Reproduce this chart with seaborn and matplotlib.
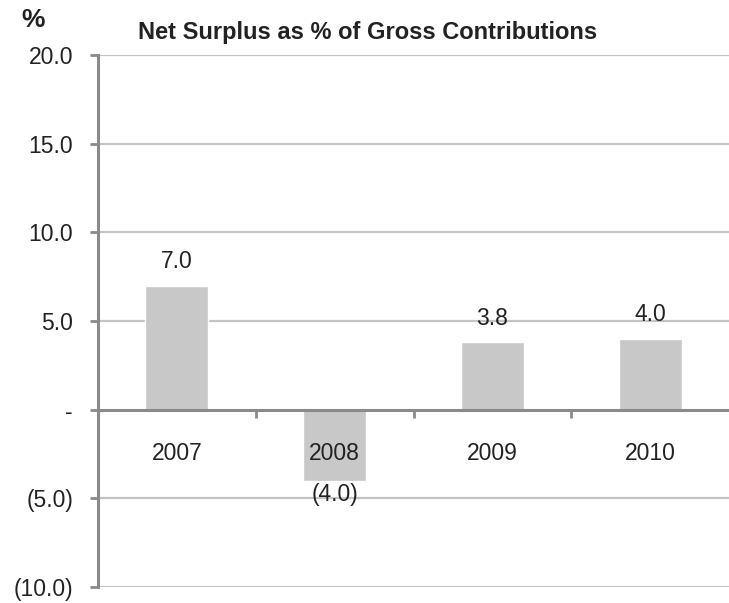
import matplotlib
matplotlib.use("Agg")
import matplotlib.pyplot as plt
import seaborn as sns
import pandas as pd
from matplotlib.ticker import FixedLocator

years = ["2007", "2008", "2009", "2010"]
values = [7.0, -4.0, 3.8, 4.0]
value_labels = ["7.0", "(4.0)", "3.8", "4.0"]
y_ticks = [-10, -5, 0, 5, 10, 15, 20]
y_tick_labels = ["(10.0)", "(5.0)", "-", "5.0", "10.0", "15.0", "20.0"]
title = "Net Surplus as % of Gross Contributions"
unit = "%"

sns.set_theme(style="white")
plt.rcParams["font.family"] = ["Liberation Sans", "DejaVu Sans"]

df = pd.DataFrame({"year": years, "value": values})

W, H = 729, 603
fig = plt.figure(figsize=(W / 100, H / 100), dpi=100)
ax = fig.add_axes([98 / W, 1 - 587 / H, (729 - 98) / W, (587 - 55) / H])

for yv in y_ticks:
    if yv != 0:
        ax.axhline(yv, color="#c4c4c4", linewidth=1.6, zorder=0)

sns.barplot(data=df, x="year", y="value", color="#c8c8c8", width=0.4,
            saturation=1, ax=ax, zorder=1)

ax.set_ylim(-10, 20)
ax.set_xlim(-0.5, 3.5)
ax.set_yticks(y_ticks)
ax.set_yticklabels(y_tick_labels)
ax.grid(False)
ax.set_axisbelow(False)

for s in ["top", "right"]:
    ax.spines[s].set_visible(False)
ax.spines["left"].set_color("#8a8a8a")
ax.spines["left"].set_linewidth(2.2)
ax.spines["bottom"].set_position(("data", 0))
ax.spines["bottom"].set_color("#8a8a8a")
ax.spines["bottom"].set_linewidth(2.2)

ax.set_xlabel("")
ax.set_ylabel("")

fs = 16.5
ax.tick_params(axis="y", length=6, width=2, color="#8a8a8a", left=True,
               labelsize=fs, labelcolor="#222222", pad=12)
ax.tick_params(axis="x", which="major", length=0, labelsize=fs,
               labelcolor="#222222", pad=23)
ax.xaxis.set_minor_locator(FixedLocator([0.5, 1.5, 2.5]))
ax.tick_params(axis="x", which="minor", bottom=True, length=6, width=2,
               color="#8a8a8a", direction="out")

container = ax.containers[0]
pos_labels = [l if v >= 0 else "" for l, v in zip(value_labels, values)]
neg_labels = [l if v < 0 else "" for l, v in zip(value_labels, values)]
ax.bar_label(container, labels=pos_labels, padding=9, fontsize=fs, color="#222222")
ax.bar_label(container, labels=neg_labels, padding=2, fontsize=fs, color="#222222")

fig.text(368 / W, 1 - 32 / H, title, ha="center", va="center",
         fontsize=17, fontweight="bold", color="#222222")
fig.text(33 / W, 1 - 20 / H, unit, ha="center", va="center",
         fontsize=19, fontweight="bold", color="#222222")

fig.savefig("out.png", dpi=100)
